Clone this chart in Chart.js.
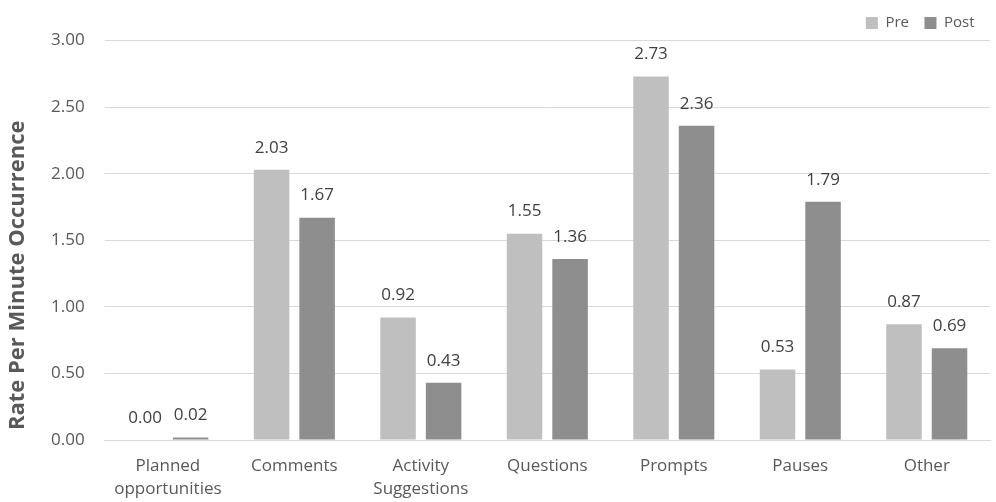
<!DOCTYPE html>
<html>
<head>
<meta charset="utf-8">
<script src="https://cdn.jsdelivr.net/npm/chart.js@4/dist/chart.umd.min.js"></script>
<style>
  html, body { margin: 0; padding: 0; background: #fff; }
  #wrap { width: 996px; height: 502px; }
</style>
</head>
<body>
<div id="wrap"><canvas id="c" width="996" height="502"></canvas></div>
<script>
const categories = [
  ['Planned', 'opportunities'],
  'Comments',
  ['Activity', 'Suggestions'],
  'Questions',
  'Prompts',
  'Pauses',
  'Other'
];
const preValues = [0.00, 2.03, 0.92, 1.55, 2.73, 0.53, 0.87];
const postValues = [0.02, 1.67, 0.43, 1.36, 2.36, 1.79, 0.69];
const yTicks = [0, 0.5, 1, 1.5, 2, 2.5, 3];
const yTitle = 'Rate Per Minute Occurrence';

const FONT = "'Open Sans', 'Liberation Sans', sans-serif";

// Writes each bar's value above it, two decimals.
const valueLabels = {
  id: 'valueLabels',
  afterDatasetsDraw(chart) {
    const ctx = chart.ctx;
    ctx.save();
    ctx.font = '17px ' + FONT;
    ctx.fillStyle = '#404040';
    ctx.textAlign = 'center';
    ctx.textBaseline = 'middle';
    chart.data.datasets.forEach((ds, i) => {
      chart.getDatasetMeta(i).data.forEach((bar, j) => {
        ctx.fillText(ds.data[j].toFixed(2), bar.x, bar.y - 22);
      });
    });
    ctx.restore();
  }
};

// Vertical value-axis title, drawn in the left margin.
const axisTitle = {
  id: 'axisTitle',
  afterDraw(chart) {
    const ctx = chart.ctx;
    const a = chart.chartArea;
    ctx.save();
    ctx.translate(18, (a.top + a.bottom) / 2 + 35);
    ctx.rotate(-Math.PI / 2);
    ctx.font = 'bold 22px ' + FONT;
    ctx.fillStyle = '#595959';
    ctx.textAlign = 'center';
    ctx.textBaseline = 'middle';
    ctx.fillText(yTitle, 0, 0);
    ctx.restore();
  }
};

new Chart(document.getElementById('c'), {
  type: 'bar',
  data: {
    labels: categories,
    datasets: [
      { label: 'Pre', data: preValues, backgroundColor: '#bfbfbf' },
      { label: 'Post', data: postValues, backgroundColor: '#8e8e8e' }
    ]
  },
  options: {
    responsive: false,
    animation: false,
    categoryPercentage: 0.72,
    barPercentage: 0.78,
    layout: { padding: { left: 31, right: 6, top: 0, bottom: -14 } },
    plugins: {
      legend: {
        position: 'top',
        align: 'end',
        labels: {
          boxWidth: 12, boxHeight: 12, padding: 15.5,
          color: '#595959',
          font: { family: FONT, size: 15 }
        }
      },
      tooltip: { enabled: false }
    },
    scales: {
      x: {
        grid: { display: false, drawTicks: false },
        border: { color: '#d9d9d9', width: 1 },
        ticks: { color: '#595959', font: { family: FONT, size: 17, lineHeight: 1.35 }, padding: 15, maxRotation: 0, autoSkip: false }
      },
      y: {
        min: 0, max: 3,
        afterBuildTicks(axis) { axis.ticks = yTicks.map(v => ({ value: v })); },
        grid: { color: '#d9d9d9', drawTicks: false },
        border: { display: false },
        ticks: {
          color: '#595959', font: { family: FONT, size: 17 }, padding: 20,
          callback: v => Number(v).toFixed(2)
        }
      }
    }
  },
  plugins: [valueLabels, axisTitle]
});
</script>
</body>
</html>
